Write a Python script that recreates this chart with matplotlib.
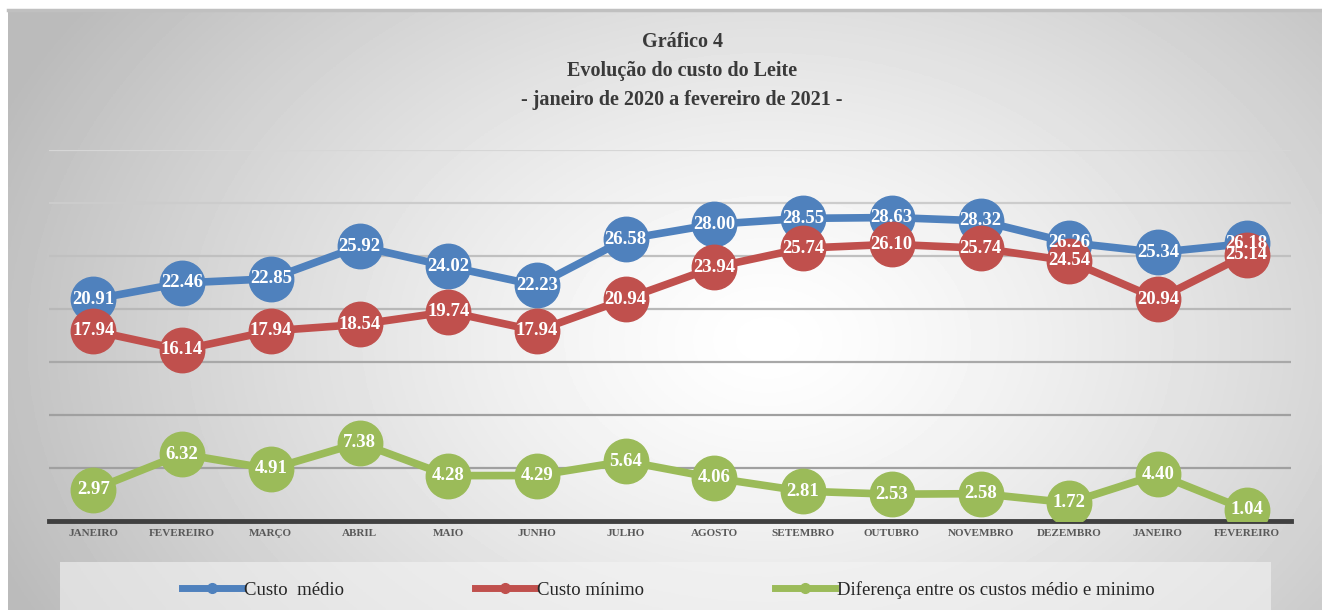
import matplotlib.pyplot as plt
import numpy as np
from matplotlib.patches import Rectangle
from matplotlib.lines import Line2D

plt.rcParams['font.family'] = ['Liberation Serif', 'DejaVu Serif']

months = ['JANEIRO', 'FEVEREIRO', 'MARÇO', 'ABRIL', 'MAIO', 'JUNHO', 'JULHO', 'AGOSTO',
          'SETEMBRO', 'OUTUBRO', 'NOVEMBRO', 'DEZEMBRO', 'JANEIRO', 'FEVEREIRO']
custo_medio = [20.91, 22.46, 22.85, 25.92, 24.02, 22.23, 26.58, 28.00, 28.55, 28.63, 28.32, 26.26, 25.34, 26.18]
custo_minimo = [17.94, 16.14, 17.94, 18.54, 19.74, 17.94, 20.94, 23.94, 25.74, 26.10, 25.74, 24.54, 20.94, 25.14]
diferenca = [2.97, 6.32, 4.91, 7.38, 4.28, 4.29, 5.64, 4.06, 2.81, 2.53, 2.58, 1.72, 4.40, 1.04]

series_names = ['Custo  médio', 'Custo mínimo', 'Diferença entre os custos médio e minimo']
colors = ['#4F81BD', '#C0504D', '#9BBB59']

W, H = 1322, 610
fig = plt.figure(figsize=(W / 100, H / 100), dpi=100)

# background panel with radial gradient (white centre, grey edges)
bg = fig.add_axes([8 / W, 0, 1 - 8 / W, 600 / H], zorder=-10)
gx = np.linspace(0, 1314, 400)
gy = np.linspace(0, 600, 200)
XX, YY = np.meshgrid(gx, gy)
rr = np.sqrt(((XX - 760) / 790) ** 2 + ((YY - 330) / 560) ** 2)
shade = 1 - 0.25 * np.clip(rr, 0, 1.05) ** 1.3
bg.imshow(shade, cmap='gray', vmin=0, vmax=1, aspect='auto', extent=[0, 1, 0, 1], origin='upper')
bg.axis('off')
fig.add_artist(Line2D([8 / W, 1], [1 - 10 / H, 1 - 10 / H], color='#c0c0c0', lw=2.5))

ax = fig.add_axes([49 / W, (H - 521) / H, 1242 / W, 371 / H])
ax.patch.set_alpha(0)
x = np.arange(len(months))

grid_cols = ['#a0a0a0', '#a0a0a0', '#a8a8a8', '#b8b8b8', '#c0c0c0', '#cccccc', '#d6d6d6']
for val, gc in zip(range(5, 40, 5), grid_cols):
    ax.axhline(val, color=gc, lw=1.6, zorder=1)

for data, col, name in zip([custo_medio, custo_minimo, diferenca], colors, series_names):
    ax.plot(x, data, color=col, lw=5.5, marker='o', markersize=32, label=name, zorder=3)

for data in [custo_medio, custo_minimo, diferenca]:
    for xi, v in zip(x, data):
        ax.text(xi, v, f'{v:.2f}', color='white', fontsize=13.5, fontweight='bold',
                ha='center', va='center', zorder=10)

ax.set_xlim(-0.5, 13.5)
ax.set_ylim(0, 35)
ax.set_yticks([])
ax.set_xticks(x)
ax.set_xticklabels(months, fontsize=8, fontweight='bold', color='#595959')
ax.tick_params(axis='x', length=0, pad=6)
for s in ['top', 'right', 'left']:
    ax.spines[s].set_visible(False)
ax.spines['bottom'].set_color('#404040')
ax.spines['bottom'].set_linewidth(3.5)
ax.spines['bottom'].set_zorder(2)

fig.text(682 / W, 1 - 71 / H, 'Gráfico 4\nEvolução do custo do Leite\n- janeiro de 2020 a fevereiro de 2021 -',
         ha='center', va='center', fontsize=14.5, fontweight='bold', color='#3a3a3a', linespacing=1.6)

# legend box
fig.add_artist(Rectangle((60 / W, 0), 1211 / W, 48 / H, transform=fig.transFigure,
                         facecolor='#f4f4f4', edgecolor='none', alpha=0.6, zorder=0))
handles = [Line2D([], [], color=c, lw=5, marker='o', markersize=7) for c in colors]
fig.legend(handles, series_names, loc='center', bbox_to_anchor=(668 / W, 1 - 590 / H), ncol=3,
           frameon=False, fontsize=13.5, handlelength=3.2, handletextpad=0.1, columnspacing=7.0,
           labelcolor='#262626')

fig.savefig('out.png', dpi=100)
